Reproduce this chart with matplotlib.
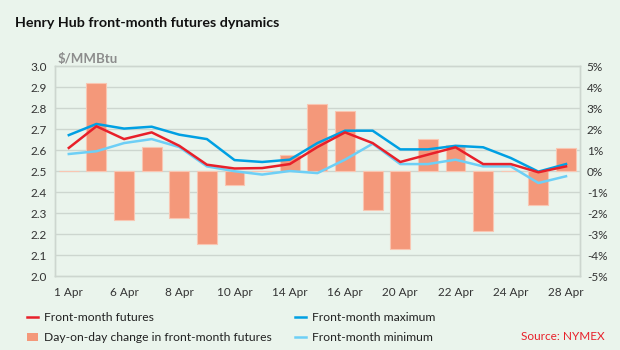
import numpy as np
import matplotlib
matplotlib.use("Agg")
import matplotlib.pyplot as plt
from matplotlib.lines import Line2D
from matplotlib.patches import Patch

plt.rcParams['font.family'] = ['Lato', 'DejaVu Sans']

# Data
dates = ['1 Apr', '2 Apr', '6 Apr', '7 Apr', '8 Apr', '9 Apr', '10 Apr', '13 Apr',
         '14 Apr', '15 Apr', '16 Apr', '17 Apr', '20 Apr', '21 Apr', '22 Apr',
         '23 Apr', '24 Apr', '27 Apr', '28 Apr']
futures = [2.61, 2.713, 2.652, 2.684, 2.62, 2.53, 2.512, 2.514, 2.533, 2.614,
           2.684, 2.633, 2.543, 2.578, 2.613, 2.533, 2.533, 2.494, 2.522]
maximum = [2.671, 2.724, 2.702, 2.711, 2.673, 2.652, 2.552, 2.543, 2.554, 2.633,
           2.692, 2.692, 2.603, 2.603, 2.62, 2.613, 2.562, 2.497, 2.533]
minimum = [2.581, 2.594, 2.633, 2.652, 2.614, 2.522, 2.499, 2.483, 2.50, 2.49,
           2.554, 2.63, 2.533, 2.533, 2.554, 2.522, 2.522, 2.443, 2.475]
change_pct = [0.0, 4.2, -2.32, 1.14, -2.25, -3.46, -0.65, 0.0, 0.78, 3.19,
              2.84, -1.84, -3.71, 1.54, 1.25, -2.87, 0.0, -1.6, 1.1]

bg = '#eaf4ec'
red = '#e8202a'
blue = '#00a0e3'
lightblue = '#6dcff6'
salmon = '#f4987a'
grid = '#cdd6cf'

fig = plt.figure(figsize=(6.2, 3.5), dpi=100)
fig.set_facecolor(bg)
ax = fig.add_axes([0.0887, 0.2114, 0.8465, 0.6], zorder=2)
ax2 = ax.twinx()
ax.set_zorder(3)
ax2.set_zorder(2)
ax.patch.set_visible(False)
ax2.set_facecolor(bg)

x = np.arange(len(dates))

# bars on the right (percent) axis
ax2.bar(x, change_pct, width=0.72, color=salmon, edgecolor='#f9c6b2', linewidth=0.8, zorder=2)
ax2.set_ylim(-5, 5)
ax2.set_yticks(range(-5, 6))
ax2.set_yticklabels(['%d%%' % v for v in range(-5, 6)])

ax.plot(x, minimum, color=lightblue, lw=1.8, zorder=3)
ax.plot(x, maximum, color=blue, lw=1.8, zorder=4)
ax.plot(x, futures, color=red, lw=1.8, zorder=5)
ax.set_ylim(2.0, 3.0)
ax.set_yticks(np.arange(2.0, 3.01, 0.1))
ax.set_yticklabels(['%.1f' % v for v in np.arange(2.0, 3.01, 0.1)])
ax.set_xlim(-0.5, 18.5)
ax.set_xticks(x[::2])
ax.set_xticklabels(dates[::2])

for yv in np.arange(2.1, 3.0, 0.1):
    ax2.axhline((yv - 2.5) * 10, color=grid, lw=1.0, zorder=1)

for a in (ax, ax2):
    for s in a.spines.values():
        s.set_color(grid)
        s.set_linewidth(1.0)
    a.tick_params(length=0, labelsize=8.5, colors='#333333')
ax.tick_params(axis='y', pad=6)
ax.tick_params(axis='x', pad=8)
ax2.tick_params(axis='y', pad=5)

fig.text(0.024, 0.935, 'Henry Hub front-month futures dynamics', fontsize=10.3,
         fontweight='bold', color='#111111', va='center')
fig.text(0.092, 0.83, '$/MMBtu', fontsize=9.5, fontweight='bold', color='#8c8c8c', va='center')

handles = [Line2D([], [], color=red, lw=1.8),
           Patch(facecolor=salmon, edgecolor='none'),
           Line2D([], [], color=blue, lw=1.8),
           Line2D([], [], color=lightblue, lw=1.8)]
labels = ['Front-month futures', 'Day-on-day change in front-month futures',
          'Front-month maximum', 'Front-month minimum']
fig.legend(handles, labels, ncol=2, loc='upper left', bbox_to_anchor=(0.043, 0.108),
           frameon=False, fontsize=8.7, handlelength=0.95, handletextpad=0.5,
           columnspacing=1.9, labelspacing=0.75, borderaxespad=0, borderpad=0,
           labelcolor='#222222')
fig.text(0.975, 0.04, 'Source: NYMEX', fontsize=8.5, color=red, ha='right', va='center')

fig.savefig('out.png', dpi=100, facecolor=bg)
